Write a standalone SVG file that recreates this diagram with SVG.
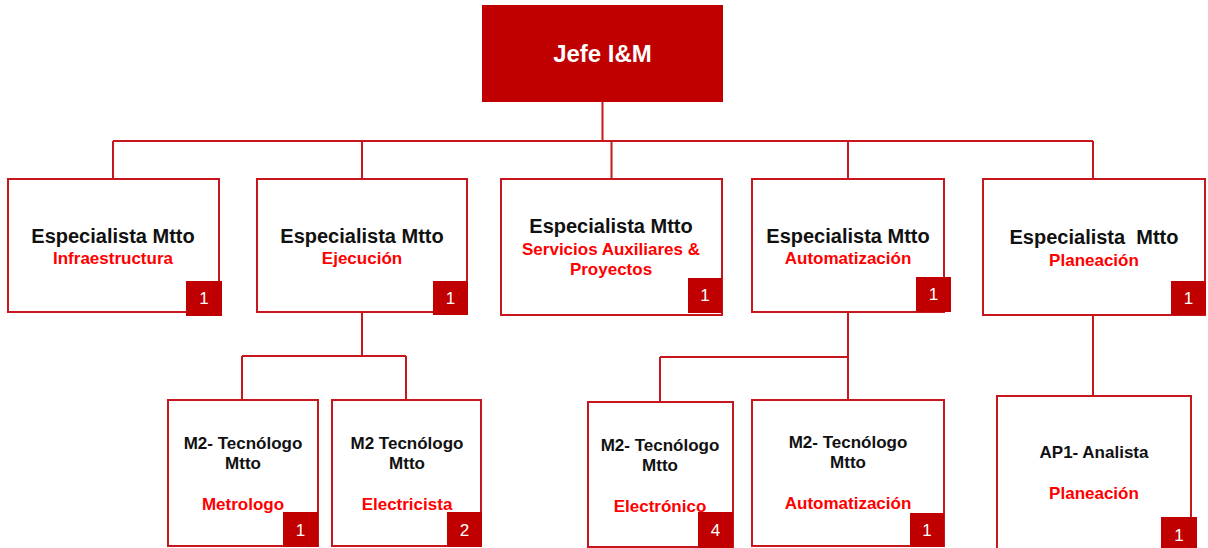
<svg xmlns="http://www.w3.org/2000/svg" width="1208" height="548" viewBox="0 0 1208 548">
  <style>
    .box { fill: #ffffff; stroke: #C8161D; stroke-width: 2; }
    .root { fill: #C00000; }
    .badge { fill: #C00000; }
    .link { fill: none; stroke: #C8161D; stroke-width: 2; }
    text { font-family: "Liberation Sans", Arial, sans-serif; text-anchor: middle; }
    .t1 { font-size: 20px; font-weight: bold; fill: #111111; }
    .t2 { font-size: 17px; font-weight: bold; fill: #111111; }
    .sub { font-size: 17px; font-weight: bold; fill: #FF0000; }
    .num { font-size: 17px; fill: #ffffff; }
    .head { font-size: 24px; font-weight: bold; fill: #ffffff; }
  </style>

  <!-- connectors -->
  <g id="connectors">
    <path class="link" d="M602.5,102 V141 M113,141 H1093 M113,141 V179 M362,141 V179 M611.5,141 V179 M848,141 V179 M1093,141 V179"/>
    <path class="link" d="M362,312 V356 M242,356 H406 M242,356 V400 M406,356 V400"/>
    <path class="link" d="M848,312 V400 M660,357 H848 M660,357 V402"/>
    <path class="link" d="M1093,315 V396"/>
  </g>

  <!-- top -->
  <g id="jefe">
    <rect class="root" x="482" y="5" width="241" height="97"/>
    <text class="head" x="602.5" y="62">Jefe I&amp;M</text>
  </g>

  <!-- second level -->
  <g id="esp-infraestructura">
    <rect class="box" x="8" y="179" width="211" height="133"/>
    <rect class="badge" x="186" y="281" width="36" height="35"/>
    <text class="t1" x="113" y="243">Especialista Mtto</text>
    <text class="sub" x="113" y="264">Infraestructura</text>
    <text class="num" x="204" y="304">1</text>
  </g>

  <g id="esp-ejecucion">
    <rect class="box" x="257" y="179" width="210" height="133"/>
    <rect class="badge" x="433" y="281" width="35" height="34"/>
    <text class="t1" x="362" y="243">Especialista Mtto</text>
    <text class="sub" x="362" y="264">Ejecución</text>
    <text class="num" x="450.5" y="304">1</text>
  </g>

  <g id="esp-servicios">
    <rect class="box" x="501" y="179" width="221" height="136"/>
    <rect class="badge" x="688" y="278" width="34" height="35"/>
    <text class="t1" x="611" y="233">Especialista Mtto</text>
    <text class="sub" x="611" y="255">Servicios Auxiliares &amp;</text>
    <text class="sub" x="611" y="275">Proyectos</text>
    <text class="num" x="705" y="301">1</text>
  </g>

  <g id="esp-automatizacion">
    <rect class="box" x="752" y="179" width="192" height="133"/>
    <rect class="badge" x="916" y="277" width="35" height="35"/>
    <text class="t1" x="848" y="243">Especialista Mtto</text>
    <text class="sub" x="848" y="264">Automatización</text>
    <text class="num" x="933.5" y="300">1</text>
  </g>

  <g id="esp-planeacion">
    <rect class="box" x="983" y="179" width="222" height="136"/>
    <rect class="badge" x="1171" y="281" width="35" height="34"/>
    <text class="t1" x="1094" y="244" xml:space="preserve">Especialista  Mtto</text>
    <text class="sub" x="1094" y="266">Planeación</text>
    <text class="num" x="1188.5" y="304">1</text>
  </g>

  <!-- third level -->
  <g id="tec-metrologo">
    <rect class="box" x="168" y="400" width="150" height="146"/>
    <rect class="badge" x="283" y="512" width="35" height="35"/>
    <text class="t2" x="243" y="449">M2- Tecnólogo</text>
    <text class="t2" x="243" y="469">Mtto</text>
    <text class="sub" x="243" y="510">Metrologo</text>
    <text class="num" x="300.5" y="536">1</text>
  </g>

  <g id="tec-electricista">
    <rect class="box" x="332" y="400" width="149" height="146"/>
    <rect class="badge" x="447" y="512" width="35" height="35"/>
    <text class="t2" x="407" y="449">M2 Tecnólogo</text>
    <text class="t2" x="407" y="469">Mtto</text>
    <text class="sub" x="407" y="510">Electricista</text>
    <text class="num" x="464.5" y="536">2</text>
  </g>

  <g id="tec-electronico">
    <rect class="box" x="588" y="402" width="145" height="145"/>
    <rect class="badge" x="698" y="512" width="35" height="36"/>
    <text class="t2" x="660" y="451">M2- Tecnólogo</text>
    <text class="t2" x="660" y="471">Mtto</text>
    <text class="sub" x="660" y="512">Electrónico</text>
    <text class="num" x="715.5" y="536">4</text>
  </g>

  <g id="tec-automatizacion">
    <rect class="box" x="752" y="400" width="192" height="146"/>
    <rect class="badge" x="910" y="513" width="34" height="34"/>
    <text class="t2" x="848" y="448">M2- Tecnólogo</text>
    <text class="t2" x="848" y="468">Mtto</text>
    <text class="sub" x="848" y="509">Automatización</text>
    <text class="num" x="927" y="536">1</text>
  </g>

  <g id="analista-planeacion">
    <rect class="box" x="997" y="396" width="194" height="160"/>
    <rect class="badge" x="1161" y="517" width="36" height="35"/>
    <text class="t2" x="1094" y="458">AP1- Analista</text>
    <text class="sub" x="1094" y="499">Planeación</text>
    <text class="num" x="1179" y="541">1</text>
  </g>
</svg>
